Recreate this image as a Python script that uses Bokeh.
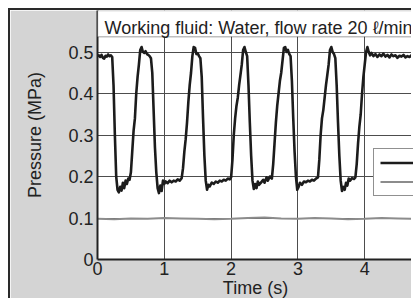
from bokeh.plotting import figure
from bokeh.models import Range1d, FixedTicker, BoxAnnotation, Label, Legend, LegendItem
from bokeh.core.properties import value
from bokeh.embed import file_html
from bokeh.resources import INLINE

# ---------------- data ----------------
TITLE = "Working fluid: Water, flow rate 20 \u2113/min"
X_LABEL = "Time (s)"
Y_LABEL = "Pressure (MPa)"
X_TICKS = [0, 1, 2, 3, 4]
X_TICK_LABELS = ["0", "1", "2", "3", "4"]
Y_TICKS = [0, 0.1, 0.2, 0.3, 0.4, 0.5]
Y_TICK_LABELS = ["0", "0.1", "0.2", "0.3", "0.4", "0.5"]
SERIES_NAMES = ["Supply pressure", "Back pressure"]  # legend labels lie outside the visible area

# series 1 (black): time (s)
T1 = [0.00, 0.02, 0.04, 0.06, 0.08, 0.10, 0.12, 0.14, 0.16, 0.18, 0.20, 0.22,
      0.24, 0.26, 0.28, 0.30, 0.32,
      0.34, 0.36, 0.38, 0.40, 0.42, 0.44, 0.46, 0.48,
      0.50, 0.52, 0.54, 0.56, 0.58, 0.60, 0.62, 0.64, 0.66,
      0.68, 0.70, 0.72, 0.74, 0.76, 0.78, 0.80,
      0.82, 0.84, 0.86, 0.88, 0.90, 0.92,
      0.94, 0.96, 0.98, 1.00, 1.02, 1.05, 1.08, 1.11, 1.14, 1.17, 1.20, 1.23, 1.26,
      1.28, 1.30, 1.32, 1.34, 1.36, 1.38, 1.40, 1.42, 1.44,
      1.46, 1.48, 1.50, 1.52, 1.54,
      1.56, 1.58, 1.60, 1.62, 1.64,
      1.66, 1.68, 1.71, 1.74, 1.77, 1.80, 1.83, 1.86, 1.89, 1.92, 1.95, 1.98, 2.00,
      2.02, 2.04, 2.06, 2.08, 2.10, 2.12, 2.14, 2.16, 2.18, 2.20,
      2.22, 2.24,
      2.26, 2.28, 2.30, 2.32, 2.34,
      2.36, 2.38, 2.40, 2.42, 2.45, 2.48, 2.50, 2.53, 2.55, 2.58, 2.61,
      2.63, 2.65, 2.67, 2.69, 2.71, 2.73, 2.75, 2.77, 2.79, 2.81,
      2.83, 2.85, 2.87, 2.89,
      2.91, 2.93, 2.95, 2.97, 2.99,
      3.01, 3.03, 3.06, 3.09, 3.12, 3.15, 3.18, 3.21, 3.24, 3.27, 3.30,
      3.32, 3.34, 3.36, 3.38, 3.40, 3.42, 3.44, 3.46, 3.48, 3.50,
      3.52, 3.54, 3.56,
      3.58, 3.60, 3.62, 3.64, 3.66,
      3.68, 3.70, 3.72, 3.74, 3.76, 3.78, 3.81, 3.84, 3.86,
      3.88, 3.90, 3.92, 3.94, 3.96, 3.98, 4.00, 4.02, 4.04,
      4.06, 4.08, 4.10, 4.13, 4.16, 4.19, 4.22, 4.25, 4.28, 4.31, 4.34, 4.37, 4.40,
      4.43, 4.46, 4.49, 4.52, 4.55, 4.58, 4.61, 4.64, 4.67, 4.70, 4.73]
# series 1 (black): pressure (MPa)
P1 = [0.490, 0.492, 0.488, 0.493, 0.486, 0.484, 0.491, 0.489, 0.494, 0.490, 0.492, 0.488,
      0.420, 0.300, 0.200, 0.168, 0.162,
      0.175, 0.166, 0.185, 0.172, 0.190, 0.182, 0.195, 0.192,
      0.210, 0.260, 0.310, 0.340, 0.400, 0.440, 0.470, 0.505, 0.512,
      0.500, 0.498, 0.502, 0.495, 0.493, 0.490, 0.485,
      0.450, 0.360, 0.270, 0.210, 0.172, 0.160,
      0.178, 0.165, 0.190, 0.182, 0.188, 0.184, 0.190, 0.186, 0.190, 0.188, 0.193, 0.190, 0.196,
      0.220, 0.260, 0.290, 0.330, 0.380, 0.420, 0.450, 0.490, 0.512,
      0.510, 0.495, 0.497, 0.490, 0.485,
      0.440, 0.340, 0.250, 0.190, 0.168,
      0.180, 0.176, 0.185, 0.182, 0.188, 0.185, 0.190, 0.188, 0.192, 0.190, 0.195, 0.193, 0.198,
      0.240, 0.300, 0.340, 0.370, 0.390, 0.420, 0.445, 0.470, 0.505, 0.512,
      0.500, 0.490,
      0.420, 0.330, 0.250, 0.190, 0.170,
      0.182, 0.172, 0.188, 0.180, 0.186, 0.192, 0.185, 0.198, 0.190, 0.200, 0.195,
      0.230, 0.280, 0.330, 0.370, 0.400, 0.430, 0.450, 0.480, 0.510, 0.512,
      0.500, 0.505, 0.495, 0.490,
      0.430, 0.340, 0.260, 0.200, 0.168,
      0.175, 0.185, 0.180, 0.188, 0.186, 0.190, 0.188, 0.192, 0.190, 0.195, 0.198,
      0.240, 0.300, 0.340, 0.360, 0.390, 0.420, 0.445, 0.470, 0.505, 0.512,
      0.500, 0.495, 0.485,
      0.420, 0.330, 0.250, 0.190, 0.165,
      0.175, 0.168, 0.185, 0.178, 0.195, 0.190, 0.196, 0.194, 0.198,
      0.230, 0.280, 0.320, 0.350, 0.400, 0.440, 0.470, 0.500, 0.512,
      0.500, 0.492, 0.498, 0.490, 0.495, 0.488, 0.494, 0.490, 0.496, 0.489, 0.493, 0.487, 0.494,
      0.490, 0.492, 0.486, 0.491, 0.489, 0.493, 0.487, 0.490, 0.488, 0.492, 0.489]

# series 2 (gray): time (s) and pressure (MPa)
T2 = [0.00, 0.25, 0.50, 0.75, 1.00, 1.25, 1.50, 1.75, 2.00, 2.25,
      2.50, 2.75, 3.00, 3.25, 3.50, 3.75, 4.00, 4.25, 4.50, 4.73]
P2 = [0.098, 0.097, 0.099, 0.098, 0.100, 0.099, 0.098, 0.097, 0.098, 0.100,
      0.101, 0.099, 0.098, 0.100, 0.099, 0.097, 0.098, 0.100, 0.099, 0.098]

# ---------------- style ----------------
FONT = "Liberation Sans"
TEXT_COLOR = "#222222"
GRAY_BG = "#d4d4d4"

p = figure(width=403, height=290, output_backend="svg", toolbar_location=None,
           x_range=Range1d(0, 4.73), y_range=Range1d(0, 0.6),
           min_border_left=87, min_border_right=0, min_border_top=0, min_border_bottom=0)
p.margin = (8, 0, 0, 8)
p.styles = {"border-left": "2px solid #2a2a2a", "border-top": "2px solid #2a2a2a"}
p.background_fill_color = "white"
p.border_fill_color = GRAY_BG
p.outline_line_color = None

p.xaxis.ticker = FixedTicker(ticks=X_TICKS)
p.yaxis.ticker = FixedTicker(ticks=Y_TICKS)
p.xaxis.major_label_overrides = {t: s for t, s in zip(X_TICKS, X_TICK_LABELS)}
p.yaxis.major_label_overrides = {t: s for t, s in zip(Y_TICKS, Y_TICK_LABELS)}
p.xgrid.ticker = FixedTicker(ticks=X_TICKS[1:])
p.ygrid.ticker = FixedTicker(ticks=Y_TICKS[1:])
p.grid.grid_line_color = "#4d4d4d"
p.grid.grid_line_width = 1

for ax in (p.xaxis[0], p.yaxis[0]):
    ax.axis_line_color = "#222222"
    ax.axis_line_width = 2
    ax.major_tick_line_color = None
    ax.minor_tick_line_color = None
    ax.major_tick_out = 0
    ax.major_tick_in = 0
    ax.minor_tick_out = 0
    ax.major_label_text_font = FONT
    ax.major_label_text_font_size = "18px"
    ax.major_label_text_color = TEXT_COLOR
    ax.axis_label_text_font = FONT
    ax.axis_label_text_font_size = "18px"
    ax.axis_label_text_font_style = "normal"
    ax.axis_label_text_color = TEXT_COLOR

p.xaxis.axis_label = X_LABEL
p.yaxis.axis_label = Y_LABEL
p.xaxis.major_label_standoff = 2
p.xaxis.axis_label_standoff = 0
p.yaxis.major_label_standoff = 4
p.yaxis.axis_label_standoff = 20

r1 = p.line(T1, P1, line_color="#1c1c1c", line_width=2.6, line_join="round", name=SERIES_NAMES[0])
r2 = p.line(T2, P2, line_color="#8c8c8c", line_width=2, name=SERIES_NAMES[1])

title_box = BoxAnnotation(bottom=0.537, fill_color="white", fill_alpha=1.0,
                          line_color="#2a2a2a", line_width=1.5)
p.add_layout(title_box)
p.add_layout(Label(x=0.105, y=0.559, text=TITLE, text_font=FONT, text_font_size="18px",
                   text_color=TEXT_COLOR, text_baseline="alphabetic"))

# legend: its labels fall beyond the right edge in the reference, so only the samples show
legend = Legend(items=[LegendItem(label=value(""), renderers=[r1]),
                       LegendItem(label=value(""), renderers=[r2])],
                location=(276, 63), padding=6, spacing=4, margin=0,
                glyph_height=15, glyph_width=42, label_height=15, label_width=20,
                label_text_font=FONT, label_text_font_size="12px",
                border_line_color="#222222", border_line_width=1,
                background_fill_color="white", background_fill_alpha=1.0)
p.add_layout(legend)

open("out.html", "w").write(file_html(p, INLINE))
